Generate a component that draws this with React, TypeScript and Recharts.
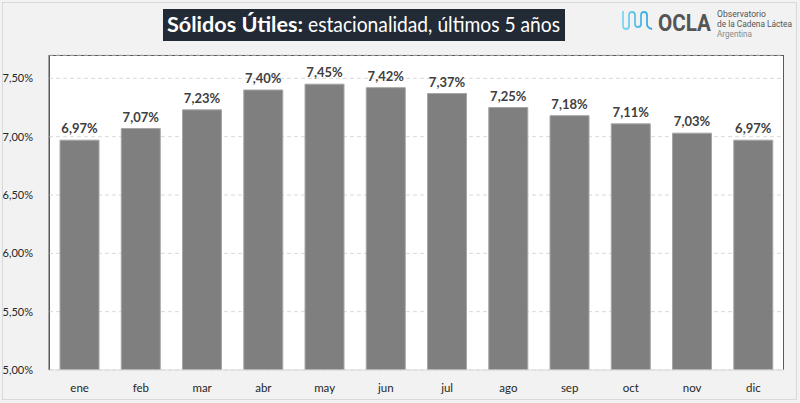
import React from "react";
import { BarChart, Bar, XAxis, YAxis, CartesianGrid, LabelList } from "recharts";

const months = ["ene", "feb", "mar", "abr", "may", "jun", "jul", "ago", "sep", "oct", "nov", "dic"];
const values = [6.97, 7.07, 7.23, 7.4, 7.45, 7.42, 7.37, 7.25, 7.18, 7.11, 7.03, 6.97];
const yTicks = [5, 5.5, 6, 6.5, 7, 7.5];
const yDomain = [5, 7.7];

const data = months.map((m, i) => ({ month: m, value: values[i] }));

const fmt = (v: number) => v.toFixed(2).replace(".", ",") + "%";

const FONT = "Lato, 'Open Sans', sans-serif";

export default function App() {
  return (
    <div
      style={{
        position: "absolute",
        left: 0,
        top: 0,
        width: 800,
        height: 403,
        background: "#f2f2f2",
        fontFamily: FONT,
        overflow: "hidden",
      }}
    >
      <div
        style={{
          position: "absolute",
          left: 2,
          top: 2,
          width: 795,
          height: 398,
          border: "1px solid #d9d9d9",
          boxSizing: "border-box",
        }}
      />
      {/* plot background */}
      <div
        style={{
          position: "absolute",
          left: 49,
          top: 55,
          width: 735,
          height: 315,
          background: "#ffffff",
          borderTop: "1px solid #595959",
          borderRight: "1px solid #595959",
          borderLeft: "1px solid #595959",
          boxSizing: "border-box",
        }}
      />
      {/* title + logo */}
      <svg style={{ position: "absolute", left: 0, top: 0 }} width={800} height={50}>
        <defs>
          <linearGradient id="wave" x1="0" x2="1" y1="0" y2="0">
            <stop offset="0" stopColor="#7fd6f2" />
            <stop offset="1" stopColor="#2aa5dc" />
          </linearGradient>
        </defs>
        <rect x={163} y={9} width={402} height={32} fill="#222a35" />
        <text
          x={167}
          y={32}
          fontSize={20.5}
          fontWeight={700}
          fill="#ffffff"
          fontFamily={FONT}
          textLength={136}
          lengthAdjust="spacingAndGlyphs"
        >
          Sólidos Útiles:
        </text>
        <text
          x={308}
          y={32}
          fontSize={20.5}
          fill="#ffffff"
          fontFamily={FONT}
          textLength={252}
          lengthAdjust="spacingAndGlyphs"
        >
          estacionalidad, últimos 5 años
        </text>
        <path
          d="M623 11 V26 Q623 29 626 29 Q629 29 629 26 V15 Q629 12 632 12 Q635 12 635 15 V24 Q635 27 638 27 Q641 27 641 24 V15 Q641 12 644 12 Q647 12 647 15 V24 Q647 28 652 29"
          fill="none"
          stroke="url(#wave)"
          strokeWidth={1.8}
        />
        <text
          x={658}
          y={31}
          fontSize={24}
          fontWeight={700}
          fill="#555555"
          fontFamily="Roboto, sans-serif"
          textLength={53}
          lengthAdjust="spacingAndGlyphs"
        >
          OCLA
        </text>
        <text x={717} y={17} fontSize={8.5} fill="#555555" fontFamily="Roboto, sans-serif" textLength={49} lengthAdjust="spacingAndGlyphs">
          Observatorio
        </text>
        <text x={717} y={27} fontSize={8.5} fill="#555555" fontFamily="Roboto, sans-serif" textLength={75} lengthAdjust="spacingAndGlyphs">
          de la Cadena Láctea
        </text>
        <text x={717} y={37} fontSize={8.5} fill="#8a8a8a" fontFamily="Roboto, sans-serif" textLength={35} lengthAdjust="spacingAndGlyphs">
          Argentina
        </text>
      </svg>
      <div style={{ position: "absolute", left: 0, top: 0 }}>
        <BarChart
          width={800}
          height={403}
          data={data}
          margin={{ top: 55, right: 16, bottom: 8, left: 0 }}
          barCategoryGap="18%"
        >
          <CartesianGrid vertical={false} stroke="#d9d9d9" strokeDasharray="4 3" />
          <XAxis
            dataKey="month"
            axisLine={{ stroke: "#d9d9d9" }}
            tickLine={false}
            height={25}
            tick={{ fill: "#262626", fontSize: 11.5, fontFamily: FONT }}
            tickMargin={8}
          />
          <YAxis
            width={49}
            domain={yDomain}
            ticks={yTicks}
            allowDataOverflow
            axisLine={{ stroke: "#595959" }}
            tickLine={false}
            tickFormatter={fmt}
            tick={{ fill: "#262626", fontSize: 11, fontFamily: FONT }}
            tickMargin={10}
          />
          <Bar
            dataKey="value"
            fill="#7f7f7f"
            stroke="#a6a6a6"
            strokeWidth={1}
            isAnimationActive={false}
          >
            <LabelList
              dataKey="value"
              position="top"
              offset={7}
              formatter={(v: number) => fmt(v)}
              style={{ fill: "#404040", fontSize: 13, fontWeight: 700, fontFamily: FONT }}
            />
          </Bar>
        </BarChart>
      </div>
    </div>
  );
}
